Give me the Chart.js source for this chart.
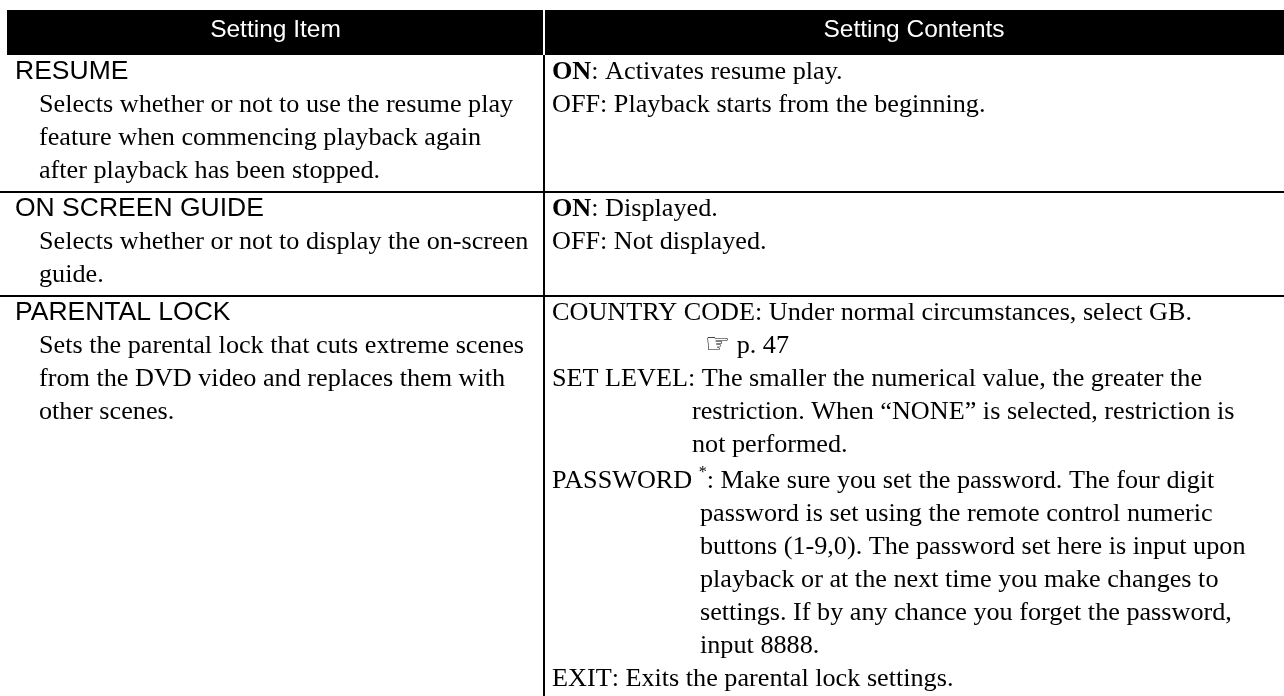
<!DOCTYPE html>
<html>
<head>
<meta charset="utf-8">
<script src="https://cdn.jsdelivr.net/npm/chart.js@4"></script>
<style>
  html, body { margin: 0; padding: 0; background: #fff; }
  #tbl { display: block; }
</style>
</head>
<body>
<canvas id="tbl" width="1284" height="696"></canvas>
<script>
const headers = ['Setting Item', 'Setting Contents'];
const itemNames = ['RESUME', 'ON SCREEN GUIDE', 'PARENTAL LOCK'];
const itemNotes = [
  ['Selects whether or not to use the resume play', 'feature when commencing playback again', 'after playback has been stopped.'],
  ['Selects whether or not to display the on-screen', 'guide.'],
  ['Sets the parental lock that cuts extreme scenes', 'from the DVD video and replaces them with', 'other scenes.']
];
const resumeContents = [
  { label: 'ON', bold: true, lines: ['Activates resume play.'] },
  { label: 'OFF', lines: ['Playback starts from the beginning.'] }
];
const guideContents = [
  { label: 'ON', bold: true, lines: ['Displayed.'] },
  { label: 'OFF', lines: ['Not displayed.'] }
];
const lockContents = [
  { label: 'COUNTRY CODE', lines: ['Under normal circumstances, select GB.', '\u261E p. 47'] },
  { label: 'SET LEVEL', lines: ['The smaller the numerical value, the greater the', 'restriction. When \u201CNONE\u201D is selected, restriction is', 'not performed.'] },
  { label: 'PASSWORD', star: true, lines: ['Make sure you set the password. The four digit', 'password is set using the remote control numeric', 'buttons (1-9,0). The password set here is input upon', 'playback or at the next time you make changes to', 'settings. If by any chance you forget the password,', 'input 8888.'] },
  { label: 'EXIT', lines: ['Exits the parental lock settings.'] }
];
const contents = [resumeContents, guideContents, lockContents];

const serif = '26.2px "Liberation Serif", "Times New Roman", serif';
const serifBold = 'bold 26.2px "Liberation Serif", "Times New Roman", serif';
const sansHead = '24.5px "Liberation Sans", Arial, Helvetica, sans-serif';
const sansItem = '26.5px "Liberation Sans", Arial, Helvetica, sans-serif';

const tablePlugin = {
  id: 'settingsTable',
  afterDraw(chart) {
    const ctx = chart.ctx;
    const W = chart.width;
    const left = 7, colX = 544;
    const headTop = 10, headBot = 55;
    const lineH = 33;
    const x0 = 552;

    ctx.save();
    ctx.textBaseline = 'alphabetic';

    // header band
    ctx.fillStyle = '#000';
    ctx.fillRect(left, headTop, W - left, headBot - headTop);
    ctx.fillStyle = '#fff';
    ctx.fillRect(colX - 1, headTop, 2, headBot - headTop);
    ctx.font = sansHead;
    ctx.textAlign = 'center';
    ctx.fillText(headers[0], (left + colX) / 2, 37);
    ctx.fillText(headers[1], (colX + W) / 2, 37);
    ctx.textAlign = 'left';

    let top = headBot;
    itemNames.forEach((name, i) => {
      const b0 = top + 24;
      ctx.fillStyle = '#000';
      ctx.font = sansItem;
      ctx.fillText(name, 15, b0);
      ctx.font = serif;
      itemNotes[i].forEach((t, k) => ctx.fillText(t, 39, b0 + lineH * (k + 1)));
      let lastLeft = b0 + lineH * itemNotes[i].length;

      let b = b0;
      contents[i].forEach(e => {
        if (e.star) b += 3;
        ctx.font = e.bold ? serifBold : serif;
        ctx.fillText(e.label, x0, b);
        let x = x0 + ctx.measureText(e.label).width;
        if (e.star) {
          x += ctx.measureText(' ').width;
          ctx.font = '16px "Liberation Serif", serif';
          ctx.fillText('*', x, b - 11);
          x += ctx.measureText('*').width;
        }
        ctx.font = serif;
        ctx.fillText(': ' + e.lines[0], x, b);
        for (let k = 1; k < e.lines.length; k++) {
          b += lineH;
          let t = e.lines[k];
          let ix = e.star ? 700 : 692;
          if (t.startsWith('\u261E')) {
            ctx.font = '28px "DejaVu Sans", sans-serif';
            ctx.fillText('\u261E', 705, b);
            ix = 705 + ctx.measureText('\u261E').width;
            ctx.font = serif;
            t = t.slice(1);
          }
          ctx.fillText(t, ix, b);
        }
        b += lineH;
      });
      const lastRight = b - lineH;

      const bottom = i === 2 ? chart.height + 20 : Math.max(lastLeft, lastRight) + 14;
      ctx.fillStyle = '#000';
      ctx.fillRect(colX - 1, top, 2, bottom - top);
      ctx.fillRect(0, bottom - 1, W, 2);
      top = bottom;
    });
    ctx.restore();
  }
};

new Chart(document.getElementById('tbl'), {
  type: 'scatter',
  data: { datasets: [{ data: [] }] },
  options: {
    responsive: false,
    animation: false,
    events: [],
    layout: { padding: 0 },
    plugins: { legend: { display: false }, tooltip: { enabled: false } },
    scales: { x: { display: false }, y: { display: false } }
  },
  plugins: [tablePlugin]
});
</script>
</body>
</html>
